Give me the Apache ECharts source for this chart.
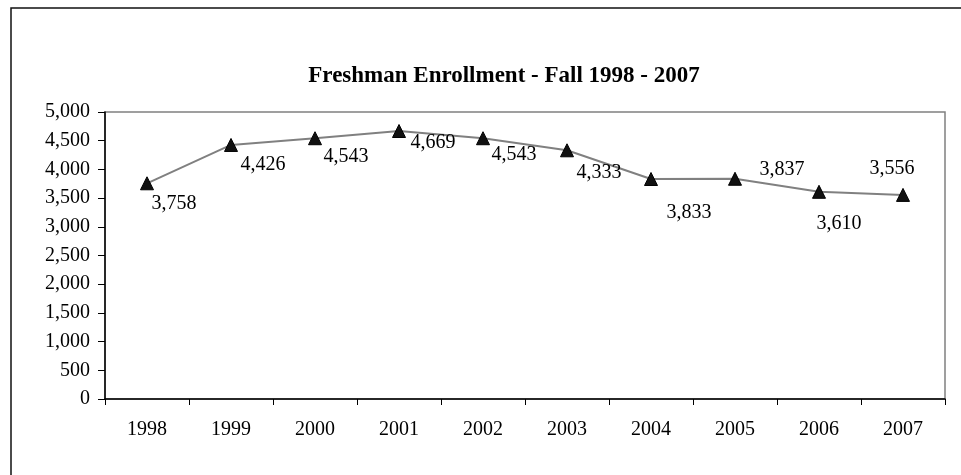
<!DOCTYPE html>
<html>
<head>
<meta charset="utf-8">
<script src="https://cdn.jsdelivr.net/npm/echarts@6/dist/echarts.min.js"></script>
<style>
html,body{margin:0;padding:0;background:#fff;}
#chart{width:961px;height:475px;}
</style>
</head>
<body>
<div id="chart"></div>
<script>
const titleText = 'Freshman Enrollment - Fall 1998 - 2007';
const years = ['1998','1999','2000','2001','2002','2003','2004','2005','2006','2007'];
const enrollment = [3758, 4426, 4543, 4669, 4543, 4333, 3833, 3837, 3610, 3556];
const yTicks = [0, 500, 1000, 1500, 2000, 2500, 3000, 3500, 4000, 4500, 5000];

// layout only: label offsets relative to each marker
const labelOffsets = [[27,20],[32,20],[31,19],[34,12],[31,17],[32,22],[38,34],[47,-9],[20,32],[-11,-26]];

const FONT = "'Liberation Serif','Times New Roman',serif";
const fmt = v => String(v).replace(/\B(?=(\d{3})+(?!\d))/g, ',');

const chart = echarts.init(document.getElementById('chart'), null, {renderer:'canvas'});
chart.setOption({
  animation:false,
  backgroundColor:'#fff',
  title:{
    text:titleText,
    left:499, top:60, textAlign:'center',
    textStyle:{fontFamily:FONT,fontWeight:'bold',fontSize:23,color:'#000'}
  },
  graphic:[{
    type:'rect', silent:true,
    shape:{x:11,y:8,width:1000,height:520},
    style:{fill:'none',stroke:'#111',lineWidth:1.5}
  }],
  grid:{left:105,right:16,top:112,bottom:76,show:true,borderColor:'#808080',borderWidth:1.5,backgroundColor:'transparent'},
  xAxis:{
    type:'category',
    data:years,
    boundaryGap:true,
    axisLine:{lineStyle:{color:'#000',width:1.5}},
    axisTick:{show:true,length:6,alignWithLabel:false,lineStyle:{color:'#000',width:1}},
    axisLabel:{fontFamily:FONT,fontSize:20,color:'#000',margin:21},
    splitLine:{show:false}
  },
  yAxis:{
    type:'value',
    min:yTicks[0], max:yTicks[yTicks.length-1], interval:yTicks[1]-yTicks[0],
    axisLine:{show:true,lineStyle:{color:'#000',width:1.5}},
    axisTick:{show:true,length:7,lineStyle:{color:'#000',width:1}},
    axisLabel:{fontFamily:FONT,fontSize:20,color:'#000',margin:15,formatter:fmt},
    splitLine:{show:false}
  },
  series:[{
    type:'line',
    data:enrollment.map((v,i)=>({value:v,label:{offset:labelOffsets[i]}})),
    lineStyle:{color:'#808080',width:2},
    symbol:'triangle',
    symbolSize:13,
    itemStyle:{color:'#111',borderColor:'#000',borderWidth:1},
    label:{show:true,position:'inside',fontFamily:FONT,fontSize:20,color:'#000',formatter:p=>fmt(p.value)},
    z:3
  }]
});
</script>
</body>
</html>
